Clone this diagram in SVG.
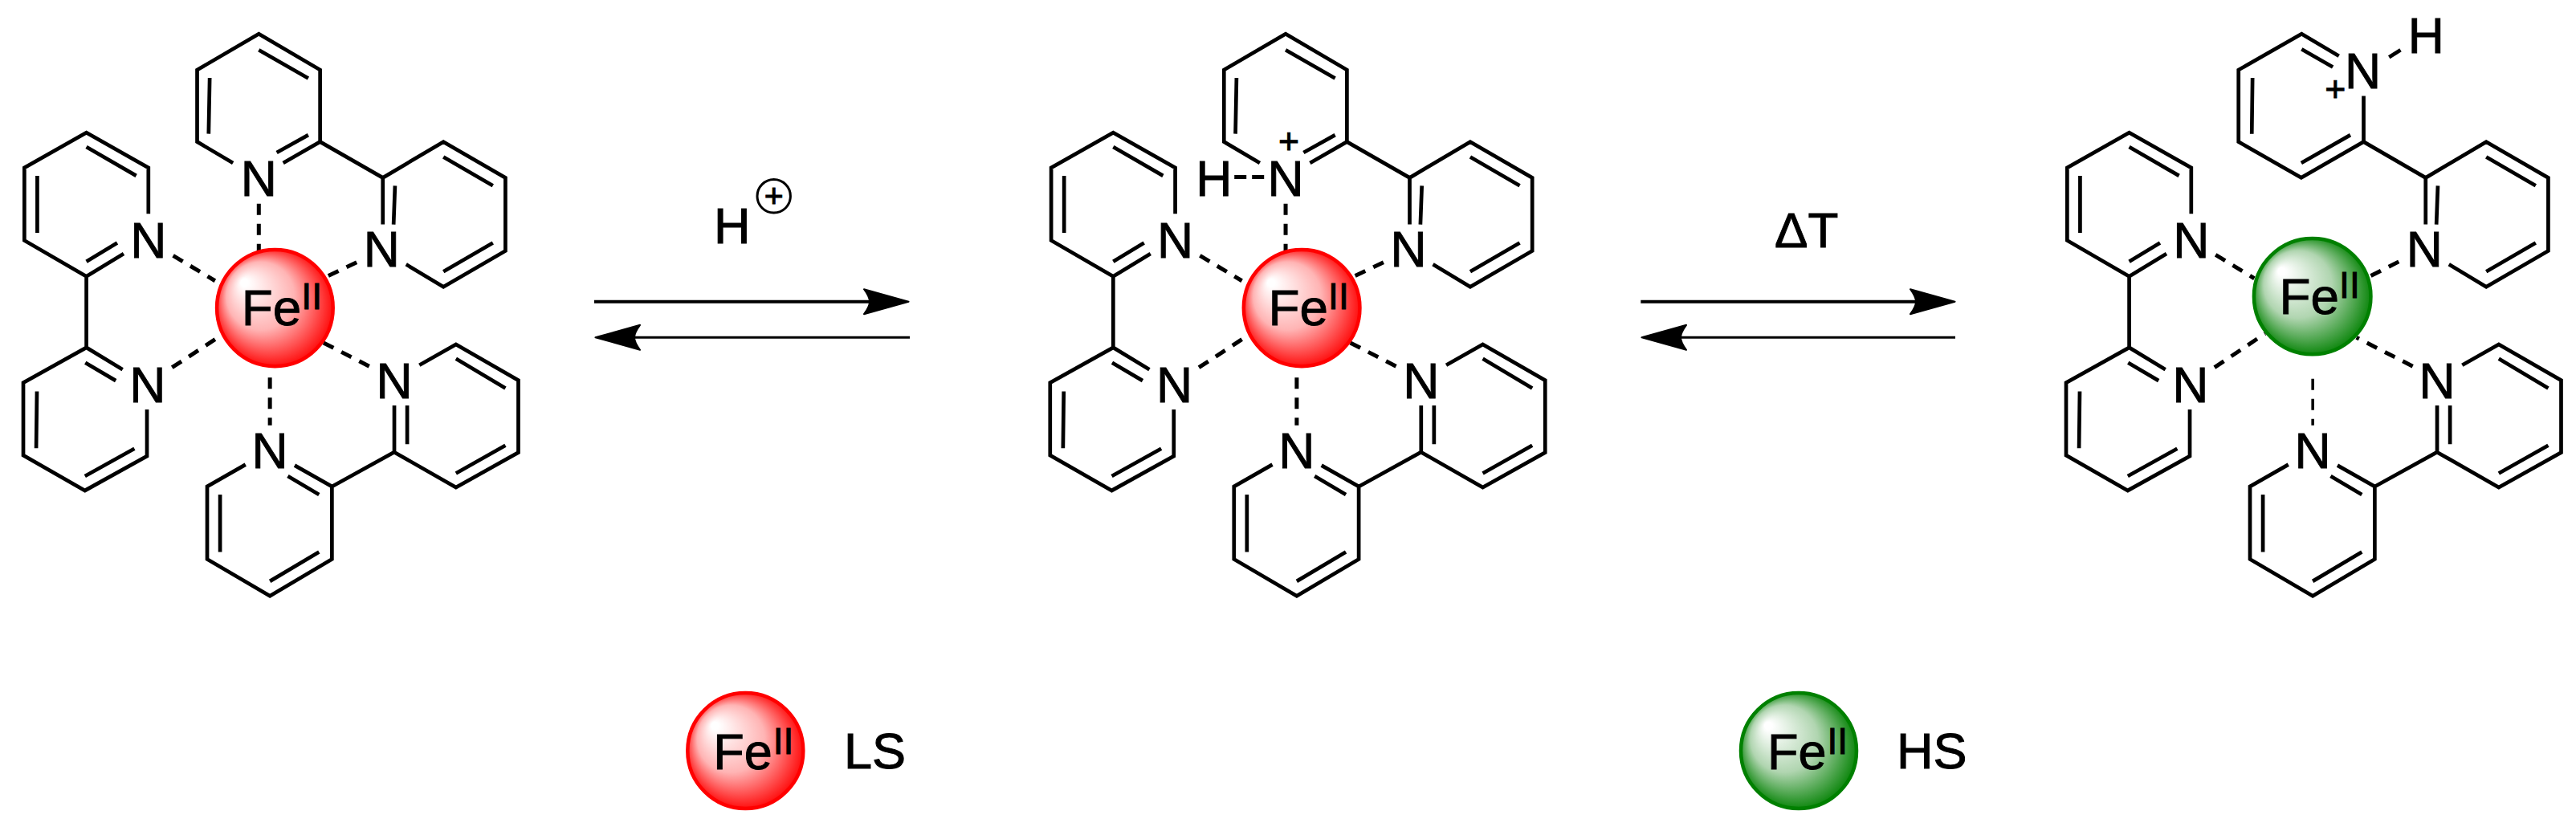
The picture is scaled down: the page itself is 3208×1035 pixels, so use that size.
<svg xmlns="http://www.w3.org/2000/svg" xmlns:xlink="http://www.w3.org/1999/xlink" width="3208" height="1035" viewBox="0 0 3208 1035">
<style>
text{font-family:"Liberation Sans",Arial,sans-serif;fill:#000;stroke:#000;stroke-width:1px}
.b{fill:none;stroke:#000;stroke-width:4.7;stroke-linejoin:miter;stroke-linecap:butt;vector-effect:non-scaling-stroke}
.d{fill:none;stroke:#000;stroke-width:5;stroke-dasharray:14 11;vector-effect:non-scaling-stroke}
.atom{font-size:140px;text-anchor:middle;stroke-width:2px}
.fe{font-size:143px;stroke-width:2px}
.sup{font-size:104px}
.plus{font-size:100px;text-anchor:middle;stroke-width:2px}
.r{fill:url(#gr);stroke:#f00;stroke-width:4.5;vector-effect:non-scaling-stroke}
.g{fill:url(#gg);stroke:#008000;stroke-width:4.5;vector-effect:non-scaling-stroke}
.lab{font-size:63px}
.labsup{font-size:46px}
.arr{stroke:#000;fill:none}
</style>
<defs>
<radialGradient id="gr" cx=".5" cy=".5" r=".53" fx=".22" fy=".27">
<stop offset=".06" stop-color="#fff"/><stop offset=".55" stop-color="#ffb4b4"/><stop offset="1" stop-color="#f00"/>
</radialGradient>
<radialGradient id="gg" cx=".5" cy=".5" r=".53" fx=".22" fy=".27">
<stop offset=".06" stop-color="#fff"/><stop offset=".55" stop-color="#b0d5b0"/><stop offset="1" stop-color="#008000"/>
</radialGradient>
<marker id="head" markerUnits="userSpaceOnUse" viewBox="0 -20 62 40" markerWidth="62" markerHeight="40" refX="10" refY="0" orient="auto-start-reverse">
<path d="M1,-15.5 L56.5,0 L1,15.5 Q8,6 8,0 Q8,-6 1,-15.5Z" fill="#000" stroke="#000" stroke-width="2" stroke-linejoin="round"/>
</marker>
<path id="top-ring" class="b" d="M650,408 L550,355 L550,175 L722,85 L893,175 L893,355 L790,408 M722,125 L860,196 M860,338 L772,382 M585,195 L582,335 M893,355 L1068,445"/>
<path id="rest-rings" class="b" d="M1068,562 L1068,445 L1237,355 L1410,445 L1410,628 L1237,718 L1133,662 M1102,465 L1098,562 M1237,393 L1375,465 M1375,608 L1237,680 M414,535 L414,420 L241,332 L68,420 L68,602 L241,692 L345,635 M241,368 L380,440 M104,440 L104,583 M241,655 L327,608 M241,692 L241,870 L342,925 M241,870 L65,958 L65,1140 L237,1228 L410,1142 L410,1025 M238,908 L323,953 M103,980 L101,1122 M237,1192 L375,1123 M685,1163 L578,1218 L578,1400 L753,1492 L926,1400 L926,1218 L822,1165 M614,1238 L614,1382 M753,1455 L890,1382 M890,1238 L803,1192 M926,1218 L1100,1132 L1100,1015 M1100,1132 L1272,1220 L1446,1133 L1446,952 L1272,862 L1170,914 M1136,1015 L1136,1112 M1272,1185 L1410,1115 M1410,972 L1272,898"/>
</defs>

<g id="molecule-1" transform="translate(0,0) scale(.4464,.4975)">
<g id="m1-bonds"><use xlink:href="#top-ring" href="#top-ring"/><use xlink:href="#rest-rings" href="#rest-rings"/></g>
<g id="m1-coordination">
<path class="d" d="M722,510 L722,630"/><path class="d" d="M483,640 L600,703"/><path class="d" d="M995,657 L905,695"/><path class="d" d="M480,920 L620,838"/><path class="d" d="M1030,917 L900,857"/><path class="d" d="M753,945 L753,1065"/>
</g>
<g id="m1-fe"><ellipse class="r" cx="767" cy="771" rx="162" ry="146"/>
<text transform="translate(674 815) scale(1 .897)" class="fe">Fe<tspan class="sup" dy="-45">II</tspan></text></g>
<g id="m1-atoms">
<text class="atom" transform="translate(722 490) scale(1 .897)">N</text>
<text class="atom" transform="translate(414 645) scale(1 .897)">N</text>
<text class="atom" transform="translate(412 1007) scale(1 .897)">N</text>
<text class="atom" transform="translate(1065 668) scale(1 .897)">N</text>
<text class="atom" transform="translate(1100 997) scale(1 .897)">N</text>
<text class="atom" transform="translate(753 1172) scale(1 .897)">N</text>
</g>
</g>

<g id="molecule-2" transform="translate(1278.75,0) scale(.4464,.4975)">
<g id="m2-bonds"><use xlink:href="#top-ring" href="#top-ring"/><use xlink:href="#rest-rings" href="#rest-rings"/></g>
<g id="m2-coordination">
<path class="d" d="M722,510 L722,630"/><path class="d" d="M483,640 L600,703"/><path class="d" d="M995,657 L905,695"/><path class="d" d="M480,920 L620,838"/><path class="d" d="M1030,917 L900,857"/><path class="d" d="M753,945 L753,1065"/><path class="d" d="M579,443 L662,443" style="stroke-dasharray:15 7"/>
</g>
<g id="m2-fe"><ellipse class="r" cx="767" cy="771" rx="162" ry="146"/>
<text transform="translate(674 815) scale(1 .897)" class="fe">Fe<tspan class="sup" dy="-45">II</tspan></text></g>
<g id="m2-atoms">
<text class="atom" transform="translate(722 490) scale(1 .897)">N</text>
<text class="atom" transform="translate(522 490) scale(1 .897)">H</text>
<text class="plus" transform="translate(731 384) scale(1 .897)">+</text>
<text class="atom" transform="translate(414 645) scale(1 .897)">N</text>
<text class="atom" transform="translate(412 1007) scale(1 .897)">N</text>
<text class="atom" transform="translate(1065 668) scale(1 .897)">N</text>
<text class="atom" transform="translate(1100 997) scale(1 .897)">N</text>
<text class="atom" transform="translate(753 1172) scale(1 .897)">N</text>
</g>
</g>

<g id="molecule-3" transform="translate(2544,0) scale(.4464,.4975)">
<g id="m3-bonds"><use xlink:href="#rest-rings" href="#rest-rings"/>
<path class="b" d="M826,140 L722,85 L546,175 L546,355 L721,445 L895,355 L895,240 M722,123 L809,168 M585,195 L583,335 M721,408 L858,338 M895,355 L1068,445 M966,143 L998,125"/></g>
<g id="m3-coordination">
<path class="d" d="M482,638 L590,697"/><path class="d" d="M993,655 L905,695"/><path class="d" d="M479,920 L620,835"/><path class="d" d="M1032,917 L875,845"/><path class="d" d="M753,948 L753,1065" style="stroke-width:3.5"/>
</g>
<g id="m3-fe"><ellipse class="g" cx="752" cy="742" rx="163" ry="145"/>
<text transform="translate(660 786) scale(1 .897)" class="fe">Fe<tspan class="sup" dy="-45">II</tspan></text></g>
<g id="m3-atoms">
<text class="atom" transform="translate(893 222) scale(1 .897)">N</text>
<text class="atom" transform="translate(1069 133) scale(1 .897)">H</text>
<text class="plus" transform="translate(816 254) scale(1 .897)">+</text>
<text class="atom" transform="translate(414 645) scale(1 .897)">N</text>
<text class="atom" transform="translate(412 1007) scale(1 .897)">N</text>
<text class="atom" transform="translate(1065 668) scale(1 .897)">N</text>
<text class="atom" transform="translate(1100 997) scale(1 .897)">N</text>
<text class="atom" transform="translate(753 1172) scale(1 .897)">N</text>
</g>
</g>

<g id="connectors">
<line class="arr" x1="740" y1="375.7" x2="1085" y2="375.7" stroke-width="4" marker-end="url(#head)"/>
<line class="arr" x1="1133" y1="420.3" x2="788" y2="420.3" stroke-width="3" marker-end="url(#head)"/>
<line class="arr" x1="2043.3" y1="375.7" x2="2388" y2="375.7" stroke-width="4" marker-end="url(#head)"/>
<line class="arr" x1="2435" y1="420.3" x2="2091" y2="420.3" stroke-width="3" marker-end="url(#head)"/>
</g>

<g id="label-h-plus">
<text class="lab" x="889" y="302.7">H</text>
<circle cx="963.7" cy="244.3" r="20.7" fill="none" stroke="#000" stroke-width="3"/>
<text x="963.7" y="258.3" font-size="41" text-anchor="middle">+</text>
</g>
<g id="label-delta-t"><text x="2210" y="308.3" font-size="62">ΔT</text></g>

<g id="legend-ls">
<circle cx="928.3" cy="935" r="72" fill="url(#gr)" stroke="#f00" stroke-width="4.5"/>
<text class="lab" x="888.3" y="957.7">Fe<tspan class="labsup" dy="-18.7" dx="1">II</tspan></text>
<text class="lab" x="1051" y="956.7">LS</text>
</g>
<g id="legend-hs">
<circle cx="2240" cy="935" r="72" fill="url(#gg)" stroke="#008000" stroke-width="4.5"/>
<text class="lab" x="2201" y="957.7">Fe<tspan class="labsup" dy="-18.7" dx="1">II</tspan></text>
<text class="lab" x="2362" y="956.7">HS</text>
</g>
</svg>
